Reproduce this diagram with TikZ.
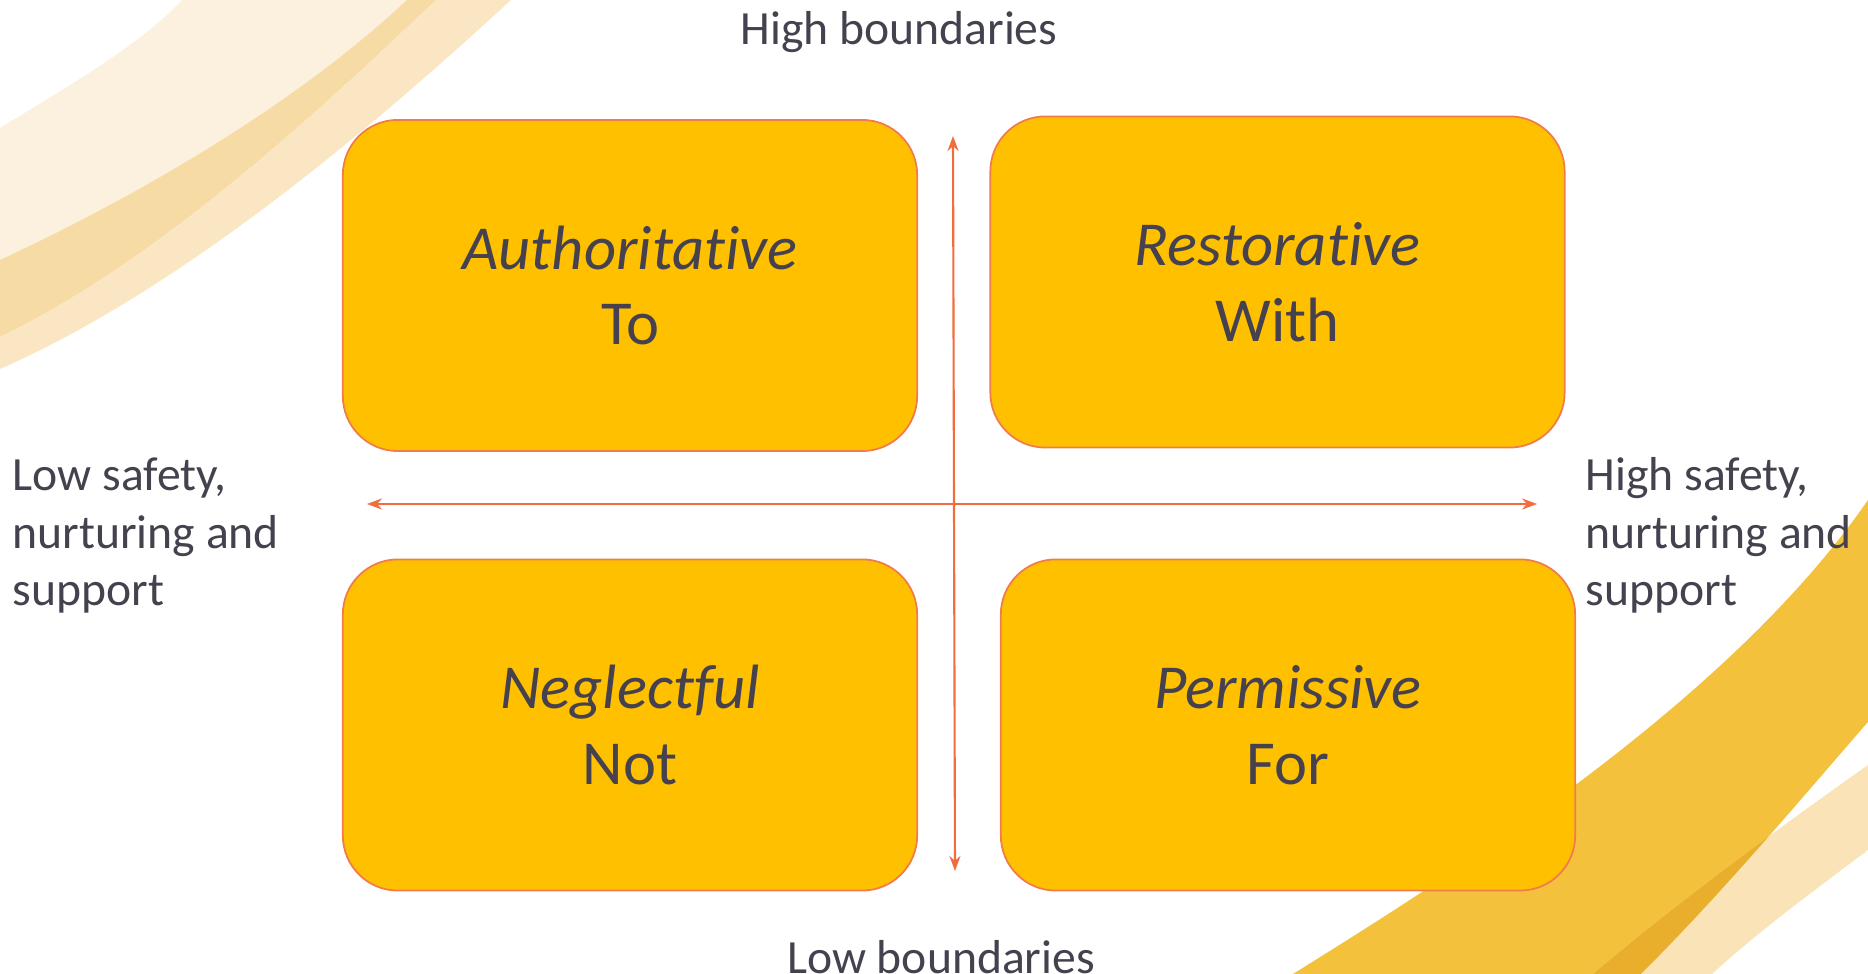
\documentclass[tikz,border=0pt]{standalone}
\usepackage{fontspec}
\setmainfont{Carlito}[Ligatures={NoCommon,NoContextual}]
\usetikzlibrary{arrows.meta}
\definecolor{boxfill}{HTML}{FFC000}
\definecolor{boxline}{HTML}{F07C4C}
\definecolor{axisc}{HTML}{F26D3D}
\definecolor{txt}{HTML}{45414E}
\definecolor{swA}{HTML}{FCF1DE}
\definecolor{swB}{HTML}{F7DBA4}
\definecolor{swC}{HTML}{FAE6C2}
\definecolor{gold}{HTML}{F3C13C}
\definecolor{goldlt}{HTML}{FAE3B6}
\definecolor{golddk}{HTML}{E9AE2B}
\tikzset{
  qbox/.style={draw=boxline, line width=0.5pt, fill=boxfill, rounded corners=0.55cm,
    minimum width=5.74cm, minimum height=3.31cm, align=center, text=txt,
    font=\fontsize{17.8}{21.6}\selectfont, inner sep=0pt},
  lbl/.style={text=txt, font=\fontsize{13.55}{16.45}\selectfont, inner sep=0pt, align=left},
  axisline/.style={draw=axisc, line width=0.6pt,
    arrows={Stealth[length=0.15cm,width=0.11cm]-Stealth[length=0.15cm,width=0.11cm]}}
}
\begin{document}
\begin{tikzpicture}[x=0.01cm,y=-0.01cm]
\useasboundingbox (0,0) rectangle (1868,974);
% top-left swooshes
\fill[swA] (0,128) .. controls (70,85) and (140,45) .. (182,0) -- (407,0)
  .. controls (300,100) and (150,190) .. (0,260) -- cycle;
\fill[swB] (0,260) .. controls (150,190) and (300,100) .. (407,0) -- (436,0)
  .. controls (320,110) and (160,260) .. (0,337) -- cycle;
\fill[swC] (0,337) .. controls (160,260) and (320,110) .. (436,0) -- (511,0)
  .. controls (370,130) and (180,290) .. (0,369) -- cycle;
% bottom-right swooshes
\fill[gold] (1293,974) .. controls (1460,870) and (1730,700) .. (1868,500) -- (1868,722)
  .. controls (1800,800) and (1725,890) .. (1641,974) -- cycle;
\fill[goldlt] (1593,974) .. controls (1680,900) and (1790,820) .. (1868,765) -- (1868,850)
  .. controls (1815,890) and (1760,930) .. (1712,974) -- cycle;
\begin{scope}
  \clip (1293,974) .. controls (1460,870) and (1730,700) .. (1868,500) -- (1868,722)
    .. controls (1800,800) and (1725,890) .. (1641,974) -- cycle;
  \fill[golddk] (1593,974) .. controls (1680,900) and (1790,820) .. (1868,765) -- (1868,850)
    .. controls (1815,890) and (1760,930) .. (1712,974) -- cycle;
\end{scope}
% boxes
\node[qbox] (auth) at (630,285.5) {\textit{Authoritative}\\To};
\node[qbox] (rest) at (1277.5,282) {\textit{Restorative}\\With};
\node[qbox] (negl) at (630,725) {\textit{Neglectful}\\Not};
\node[qbox] (perm) at (1288,725) {\textit{Permissive}\\For};
% axes
\coordinate (vtop) at (953,136);
\coordinate (vbot) at (955,871);
\coordinate (hleft) at (367,504);
\coordinate (hright) at (1537,504);
\draw[axisline] (hleft) -- (hright);
\draw[axisline] (vtop) -- (vbot);
% labels
\node[lbl, anchor=base] (hib) at (899,45) {High boundaries};
\node[lbl, anchor=base] (lob) at (941,974) {Low boundaries};
\node[lbl, anchor=base west] (lows) at (12,606) {Low safety,\\nurturing and\\support};
\node[lbl, anchor=base west] (highs) at (1585,606) {High safety,\\nurturing and\\support};
\end{tikzpicture}
\end{document}
